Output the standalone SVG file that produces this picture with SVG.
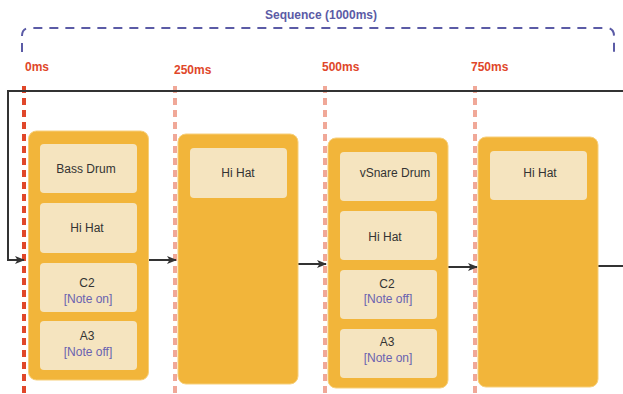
<svg xmlns="http://www.w3.org/2000/svg" width="623" height="394" viewBox="0 0 623 394">
<style>
text{font-family:"Liberation Sans",Arial,sans-serif;font-size:12px;text-anchor:middle;fill:#333}
.t{font-weight:bold;fill:#e0472a;text-anchor:start}
.ttl{font-weight:bold;fill:#5b5ba6}
.sub{fill:#6a62b0}
.outer{fill:#f2b53a;stroke:#f7cf7a;stroke-width:1}
.inner{fill:#f5e4bf}
.tl{stroke-width:4;stroke-dasharray:7 5;fill:none}
.conn{stroke:#333;stroke-width:2;fill:none}
</style>
<defs>
<marker id="ah" viewBox="0 0 10 10" refX="9" refY="5" markerWidth="10" markerHeight="10" markerUnits="userSpaceOnUse" orient="auto">
<path d="M0,1 L10,5 L0,9 L2.5,5 Z" fill="#333"/>
</marker>
</defs>
<g id="sequence">
<path d="M22,52 V36 Q22,28 30,28 H606 Q614,28 614,36 V54" fill="none" stroke="#5b5ba6" stroke-width="2" stroke-dasharray="9 7"/>
<text class="ttl" x="321" y="19">Sequence (1000ms)</text>
</g>
<g id="timeline">
<line class="tl" x1="24" y1="86" x2="24" y2="394" stroke="#e0472a"/>
<line class="tl" x1="175" y1="86" x2="175" y2="394" stroke="#f0a898"/>
<line class="tl" x1="325" y1="86" x2="325" y2="394" stroke="#f0a898"/>
<line class="tl" x1="475" y1="86" x2="475" y2="394" stroke="#f0a898"/>
<text class="t" x="25" y="71">0ms</text>
<text class="t" x="174" y="74">250ms</text>
<text class="t" x="322" y="71">500ms</text>
<text class="t" x="471" y="71">750ms</text>
</g>
<g id="connectors">
<path class="conn" d="M623,91 H8 V260 H24" marker-end="url(#ah)"/>
<path class="conn" d="M148,260 H176" marker-end="url(#ah)"/>
<path class="conn" d="M298,264 H326" marker-end="url(#ah)"/>
<path class="conn" d="M448,267 H477" marker-end="url(#ah)"/>
<path class="conn" d="M598,266 H623"/>
</g>
<g id="step0">
<rect class="outer" x="28.5" y="131" width="120" height="249" rx="8"/>
<rect class="inner" x="40" y="144" width="97" height="49" rx="4"/>
<text x="86" y="173">Bass Drum</text>
<rect class="inner" x="40" y="203" width="97" height="50" rx="4"/>
<text x="87" y="232">Hi Hat</text>
<rect class="inner" x="40" y="263" width="97" height="49" rx="4"/>
<text x="87" y="287">C2</text>
<text class="sub" x="88" y="303">[Note on]</text>
<rect class="inner" x="40" y="321" width="97" height="49" rx="4"/>
<text x="87" y="340">A3</text>
<text class="sub" x="88" y="356">[Note off]</text>
</g>
<g id="step250">
<rect class="outer" x="178" y="134" width="120" height="250" rx="8"/>
<rect class="inner" x="190" y="148" width="97" height="50" rx="4"/>
<text x="238" y="177">Hi Hat</text>
</g>
<g id="step500">
<rect class="outer" x="328" y="138" width="120" height="250" rx="8"/>
<rect class="inner" x="340" y="152" width="97" height="49" rx="4"/>
<text x="395" y="177">vSnare Drum</text>
<rect class="inner" x="340" y="211" width="97" height="49" rx="4"/>
<text x="385" y="241">Hi Hat</text>
<rect class="inner" x="340" y="270" width="97" height="49" rx="4"/>
<text x="387" y="288">C2</text>
<text class="sub" x="388" y="303">[Note off]</text>
<rect class="inner" x="340" y="329" width="97" height="49" rx="4"/>
<text x="387" y="346">A3</text>
<text class="sub" x="388" y="362">[Note on]</text>
</g>
<g id="step750">
<rect class="outer" x="478" y="137" width="120" height="250" rx="8"/>
<rect class="inner" x="490" y="151" width="97" height="49" rx="4"/>
<text x="540" y="177">Hi Hat</text>
</g>
</svg>
